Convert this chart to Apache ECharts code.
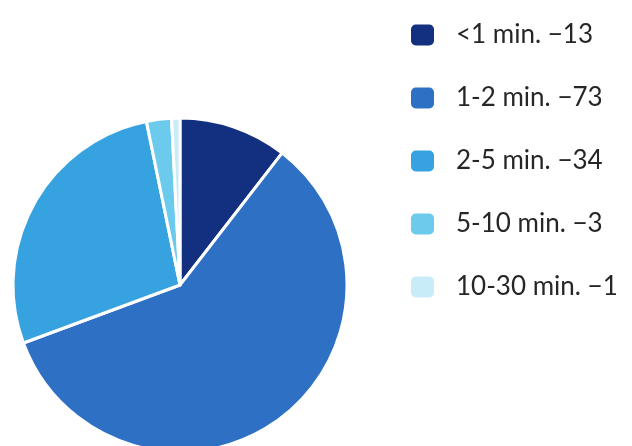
<!DOCTYPE html>
<html>
<head>
<meta charset="utf-8">
<script src="https://cdn.jsdelivr.net/npm/echarts@6/dist/echarts.min.js"></script>
<style>
  html, body { margin: 0; padding: 0; background: #ffffff; }
  #chart { width: 632px; height: 446px; }
</style>
</head>
<body>
<div id="chart"></div>
<script>
// Response-time buckets and how many responses fell in each
const categories = ['<1 min.', '1-2 min.', '2-5 min.', '5-10 min.', '10-30 min.'];
const counts = [13, 73, 34, 3, 1];
const colors = ['#132f7f', '#2e70c3', '#36a2e0', '#6ccaec', '#c9ecf9'];

const chart = echarts.init(document.getElementById('chart'));
const valueByName = {};
categories.forEach((c, i) => { valueByName[c] = counts[i]; });

chart.setOption({
  backgroundColor: '#ffffff',
  animation: false,
  color: colors,
  legend: {
    orient: 'vertical',
    left: 404,
    top: 17,
    itemWidth: 25,
    itemHeight: 23,
    itemGap: 37,
    icon: 'roundRect',
    textStyle: {
      fontFamily: 'Lato',
      fontSize: 26,
      lineHeight: 24,
      color: '#262626',
      padding: [0, 0, 0, 16]
    },
    formatter: name => name + ' \u2212' + valueByName[name],
    data: categories
  },
  series: [{
    type: 'pie',
    center: [180, 285],
    radius: [0, 167],
    startAngle: 90,
    clockwise: true,
    label: { show: false },
    labelLine: { show: false },
    itemStyle: { borderColor: '#ffffff', borderWidth: 3 },
    data: categories.map((c, i) => ({ name: c, value: counts[i] }))
  }]
});
</script>
</body>
</html>
